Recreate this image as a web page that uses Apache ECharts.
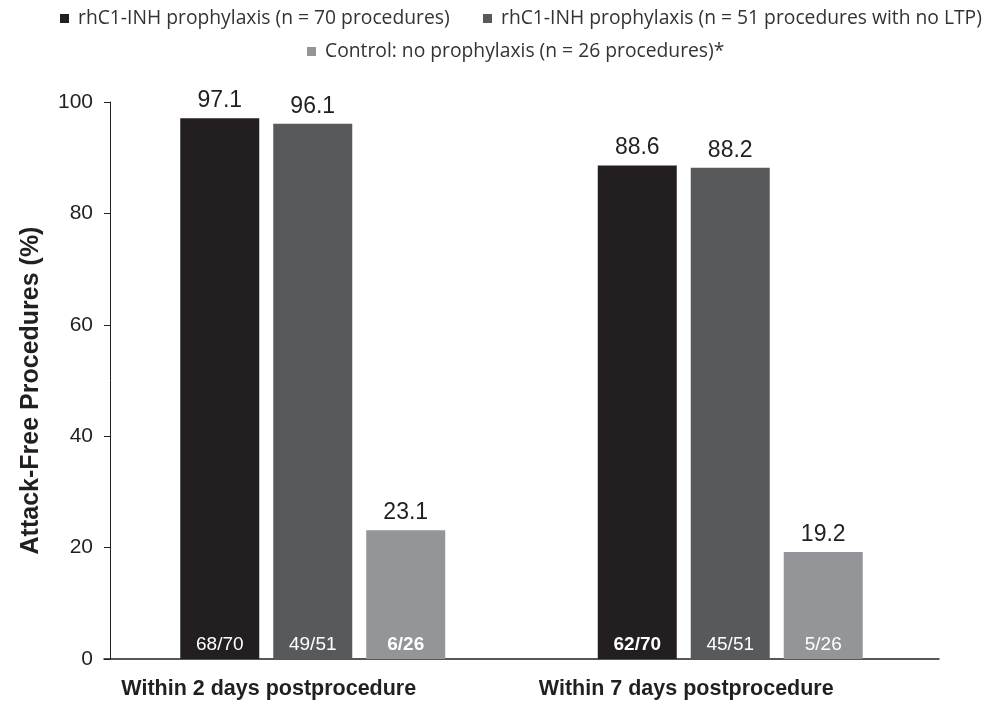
<!DOCTYPE html>
<html>
<head>
<meta charset="utf-8">
<script src="https://cdn.jsdelivr.net/npm/echarts@6/dist/echarts.min.js"></script>
<style>
  html, body { margin: 0; padding: 0; background: #fff; }
  #chart { width: 998px; height: 702px; }
</style>
</head>
<body>
<div id="chart"></div>
<script>
// categories and series values
var categories = ['Within 2 days postprocedure', 'Within 7 days postprocedure'];
var seriesNames = [
    'rhC1-INH prophylaxis (n = 70 procedures)',
    'rhC1-INH prophylaxis (n = 51 procedures with no LTP)',
    'Control: no prophylaxis (n = 26 procedures)*'
];
var fullProphylaxis = [97.1, 88.6];
var noLtpProphylaxis = [96.1, 88.2];
var controlGroup = [23.1, 19.2];

// fractions printed at the bottom of each bar (bold ones marked)
var fullFractions = ['68/70', '62/70'];
var noLtpFractions = ['49/51', '45/51'];
var controlFractions = ['6/26', '5/26'];
var fullBold = [false, true];
var noLtpBold = [false, false];
var controlBold = [true, false];

var yTicks = [0, 20, 40, 60, 80, 100];

var colors = ['#231f20', '#58595b', '#939598'];
var textFont = 'Liberation Sans, Arial, sans-serif';

var chart = echarts.init(document.getElementById('chart'));

function mainSeries(i, values) {
    return {
        name: seriesNames[i],
        type: 'bar',
        xAxisIndex: 0,
        data: values,
        barWidth: 79,
        barGap: '17.7%',
        itemStyle: { color: colors[i] },
        label: {
            show: true,
            position: 'top',
            distance: 6,
            fontFamily: textFont,
            fontSize: 23,
            color: '#231f20',
            formatter: function (p) { return p.value.toFixed(1); }
        },
        emphasis: { disabled: true }
    };
}

function fractionSeries(i, values, fractions, bold) {
    return {
        name: 'frac' + i,
        type: 'bar',
        xAxisIndex: 1,
        data: values.map(function (v, k) {
            return {
                value: v,
                label: {
                    formatter: fractions[k],
                    fontWeight: bold[k] ? 'bold' : 'normal'
                }
            };
        }),
        barWidth: 79,
        barGap: '17.7%',
        itemStyle: { color: 'rgba(0,0,0,0)' },
        label: {
            show: true,
            position: 'insideBottom',
            distance: 5,
            fontFamily: textFont,
            fontSize: 19,
            color: '#ffffff'
        },
        silent: true,
        z: 5
    };
}

// one legend block per item so nothing wraps
function legendItem(i, left, top) {
    return {
        data: [seriesNames[i]],
        left: left,
        top: top,
        padding: 0,
        itemWidth: 9,
        itemHeight: 9,
        icon: 'rect',
        textStyle: {
            fontFamily: 'Open Sans',
            fontSize: 19.3,
            color: '#333333',
            padding: [0, 0, 0, 4]
        }
    };
}

var options = {
    animation: false,
    color: colors,

    legend: [
        legendItem(0, 60, 9),
        legendItem(1, 483, 9),
        legendItem(2, 307, 42)
    ],

    grid: {
        left: 104,
        right: 59,
        top: 102,
        bottom: 43
    },

    xAxis: [{
        type: 'category',
        data: categories,
        axisLine: { lineStyle: { color: '#231f20', width: 1.5 } },
        axisTick: { show: false },
        axisLabel: {
            fontFamily: textFont,
            fontSize: 21.5,
            fontWeight: 'bold',
            color: '#231f20',
            margin: 19,
            padding: [0, 88, 0, 0]
        }
    }, {
        type: 'category',
        data: categories,
        show: false
    }],

    yAxis: [{
        type: 'value',
        min: 0,
        max: 100,
        interval: 20,
        offset: -6,
        name: 'Attack-Free Procedures (%)',
        nameLocation: 'middle',
        nameGap: 66,
        nameTextStyle: {
            fontFamily: textFont,
            fontSize: 25,
            fontWeight: 'bold',
            color: '#231f20',
            padding: [0, 20, 0, 0]
        },
        splitLine: { show: false },
        axisLine: { show: true, lineStyle: { color: '#231f20', width: 1 } },
        axisTick: { show: true, length: 6, lineStyle: { color: '#231f20' } },
        axisLabel: {
            fontFamily: textFont,
            fontSize: 21,
            color: '#231f20',
            margin: 17,
            customValues: yTicks
        }
    }],

    series: [
        mainSeries(0, fullProphylaxis),
        mainSeries(1, noLtpProphylaxis),
        mainSeries(2, controlGroup),
        fractionSeries(0, fullProphylaxis, fullFractions, fullBold),
        fractionSeries(1, noLtpProphylaxis, noLtpFractions, noLtpBold),
        fractionSeries(2, controlGroup, controlFractions, controlBold)
    ]
};

chart.setOption(options);
</script>
</body>
</html>
